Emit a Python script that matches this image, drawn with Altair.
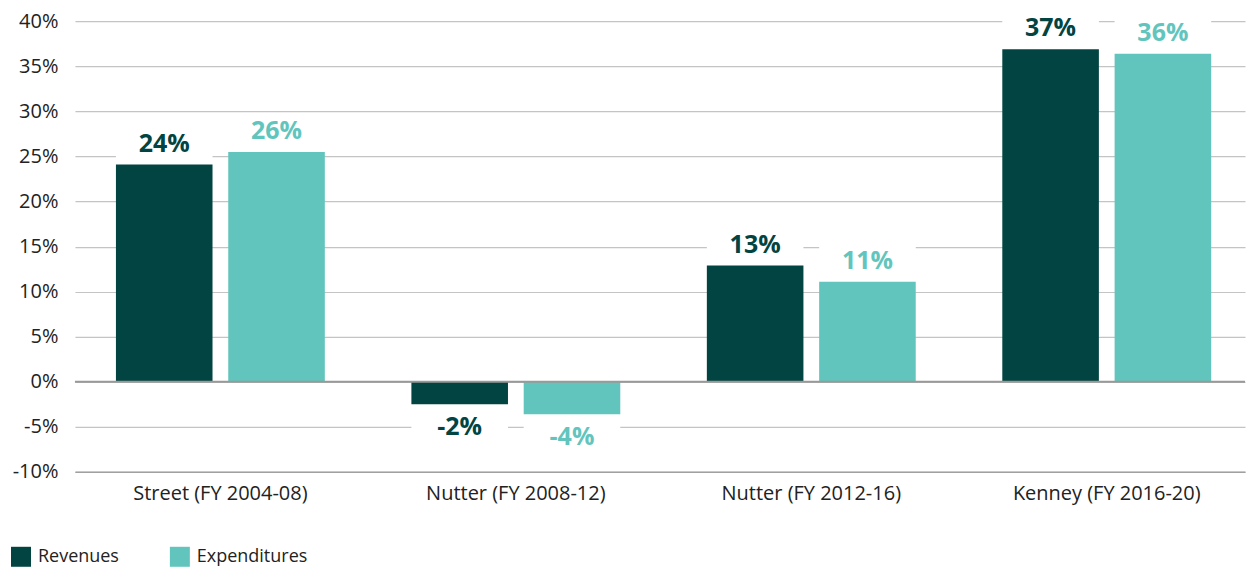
import altair as alt
import pandas as pd

categories = ["Street (FY 2004-08)", "Nutter (FY 2008-12)", "Nutter (FY 2012-16)", "Kenney (FY 2016-20)"]
series = ["Revenues", "Expenditures"]
revenues = [24.1, -2.5, 12.9, 36.9]
expenditures = [25.5, -3.6, 11.1, 36.4]
rev_labels = ["24%", "-2%", "13%", "37%"]
exp_labels = ["26%", "-4%", "11%", "36%"]
colors = ["#024442", "#62c5bd"]

rows = []
for i, c in enumerate(categories):
    for s, vals, labs in [("Revenues", revenues, rev_labels), ("Expenditures", expenditures, exp_labels)]:
        v = vals[i]
        sign = 1 if v >= 0 else -1
        rows.append({
            "cat": c, "series": s, "value": v, "label": labs[i],
            "box_end": v + sign * 4.0,
            "label_y": v + (2.3 if v >= 0 else -2.5),
        })
df = pd.DataFrame(rows)

font = "Open Sans"
xenc = alt.X("cat:N", sort=categories, title=None,
             scale=alt.Scale(paddingInner=0.293, paddingOuter=0.1266, align=0.548),
             axis=alt.Axis(labelAngle=0, labelFontSize=20, labelColor="#222222", labelFont=font,
                           labelLimit=400, ticks=False, domainColor="#a0a0a0", domainWidth=1.5,
                           labelPadding=12))
xoff = alt.XOffset("series:N", sort=series, scale=alt.Scale(paddingInner=0.14))
colorenc = alt.Color("series:N", sort=series, scale=alt.Scale(domain=series, range=colors),
                     legend=alt.Legend(title=None, orient="none", legendX=-64, legendY=526,
                                       direction="horizontal", symbolType="square", symbolSize=400,
                                       symbolStrokeWidth=0, labelFontSize=18, labelFont=font,
                                       labelColor="#222222", columnPadding=50, labelOffset=7))

yscale = alt.Scale(domain=[-10, 40], nice=False)

bars = alt.Chart(df).mark_bar().encode(
    x=xenc, xOffset=xoff,
    y=alt.Y("value:Q", scale=yscale, title=None,
            axis=alt.Axis(values=list(range(-10, 45, 5)), labelExpr="datum.value + '%'",
                          labelFontSize=20, labelColor="#222222", labelFont=font,
                          gridColor="#c4c4c4", gridWidth=1.2, domain=False, ticks=False, labelPadding=17)),
    color=colorenc,
)

boxes = alt.Chart(df).mark_bar(color="white").encode(
    x=xenc, xOffset=xoff,
    y=alt.Y("value:Q", scale=yscale), y2="box_end:Q",
)

zero = alt.Chart(pd.DataFrame({"z": [0]})).mark_rule(color="#999999", strokeWidth=2).encode(
    y=alt.Y("z:Q", scale=yscale)
)

text = alt.Chart(df).mark_text(fontSize=25, fontWeight="bold", font=font, baseline="middle").encode(
    x=xenc, xOffset=xoff,
    y=alt.Y("label_y:Q", scale=yscale),
    text="label:N",
    color=alt.Color("series:N", sort=series, scale=alt.Scale(domain=series, range=colors), legend=None),
)

chart = alt.layer(boxes, bars, zero, text).properties(
    width=1171, height=451,
    padding={"left": 3, "top": 3, "right": 0, "bottom": 0},
).configure_view(stroke=None)

chart.save("out.html", embed_options={"renderer": "svg", "actions": False})
